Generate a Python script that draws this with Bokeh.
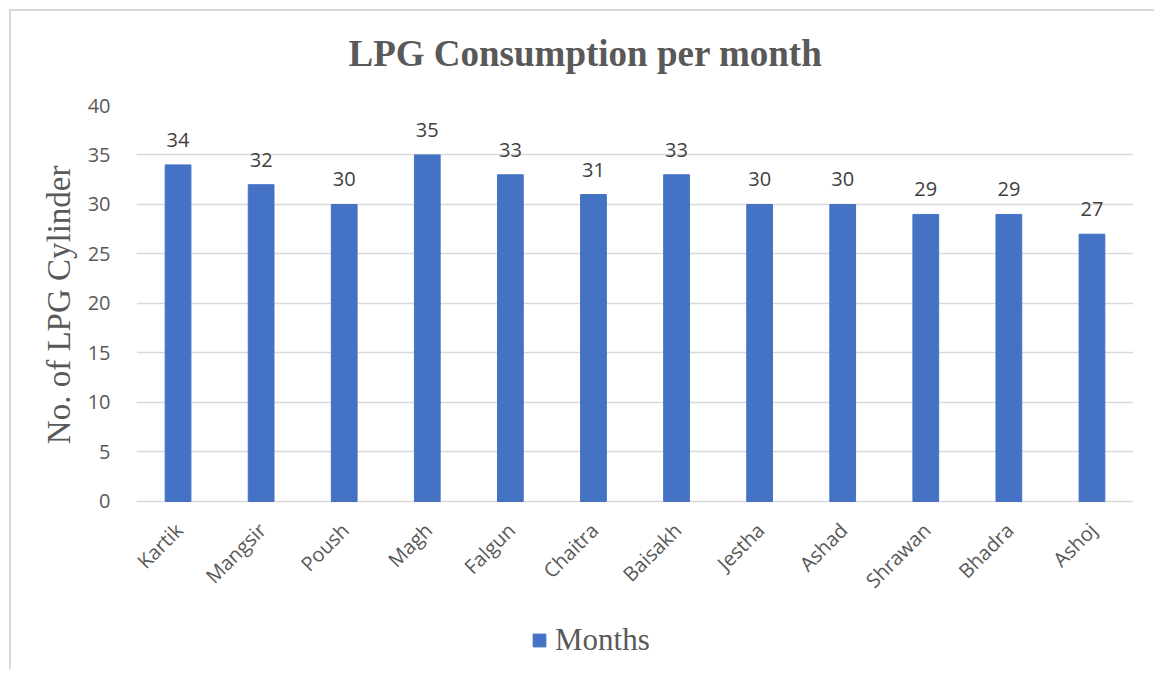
import math
from bokeh.plotting import figure
from bokeh.models import Range1d, ColumnDataSource, Legend, LegendItem, Title
from bokeh.core.properties import value
from bokeh.embed import file_html
from bokeh.resources import INLINE

months = ["Kartik", "Mangsir", "Poush", "Magh", "Falgun", "Chaitra",
          "Baisakh", "Jestha", "Ashad", "Shrawan", "Bhadra", "Ashoj"]
cylinders = [34, 32, 30, 35, 33, 31, 33, 30, 30, 29, 29, 27]
y_ticks = [0, 5, 10, 15, 20, 25, 30, 35, 40]
title_text = "LPG Consumption per month"
y_label = "No. of LPG Cylinder"
series_name = "Months"

BLUE = "#4472C4"
GRID = "#d9d9d9"
TXT = "#595959"

src = ColumnDataSource(dict(month=months, val=cylinders,
                            lab=[str(v) for v in cylinders]))

# frame extends below the zero line so the category labels and legend sit inside it
p = figure(width=1145, height=660, x_range=months, y_range=Range1d(-16.57, 40),
           output_backend="svg", toolbar_location=None,
           min_border_left=125, min_border_right=23,
           min_border_top=94, min_border_bottom=6)
p.styles = {"border-top": f"2px solid {GRID}", "border-left": f"2px solid {GRID}",
            "margin-left": "9px", "margin-top": "9px"}
p.x_range.range_padding = 0
p.outline_line_color = None

r = p.vbar(x="month", top="val", width=0.31, source=src, color=BLUE)
p.text(x="month", y="val", text="lab", source=src, text_align="center",
       text_baseline="alphabetic", y_offset=-25, text_font=value("Open Sans"),
       text_font_size="20px", text_color="#404040")

# category labels (rotated) under the zero line
p.text(x="month", y=0, text="month", source=src, angle=math.pi / 4,
       text_align="right", text_baseline="middle", x_offset=1, y_offset=25,
       text_font=value("Open Sans"), text_font_size="20px", text_color=TXT)

# title: a small spacer between frame and title pushes the title up
p.add_layout(Title(text=" ", text_font_size="10px", standoff=10), "above")
p.add_layout(Title(text=title_text, text_font="Liberation Serif",
                   text_font_size="37px", text_font_style="bold",
                   text_color=TXT, align="left", offset=212, standoff=18),
             "above")

p.yaxis.ticker = y_ticks
p.yaxis.axis_line_color = None
p.yaxis.major_tick_line_color = None
p.yaxis.minor_tick_line_color = None
p.yaxis.major_label_standoff = 20
p.yaxis.major_label_text_font = "Open Sans"
p.yaxis.major_label_text_font_size = "20px"
p.yaxis.major_label_text_color = TXT

ylab = Title(text=y_label, align="right", offset=60, standoff=16,
             text_font="Liberation Serif", text_font_size="33px",
             text_font_style="normal", text_color=TXT)
p.add_layout(ylab, "left")

p.xaxis.visible = False
p.xgrid.grid_line_color = None
p.ygrid.grid_line_color = GRID
p.ygrid.grid_line_width = 1.5

legend = Legend(items=[LegendItem(label=series_name, renderers=[r])],
                location=(395, 7), orientation="horizontal",
                label_text_font="Liberation Serif", label_text_font_size="31px",
                label_text_color=TXT, glyph_width=16, glyph_height=16,
                label_standoff=8, border_line_color=None,
                background_fill_alpha=0, padding=0, margin=0)
p.add_layout(legend, "center")

open("out.html", "w").write(file_html(p, INLINE))
